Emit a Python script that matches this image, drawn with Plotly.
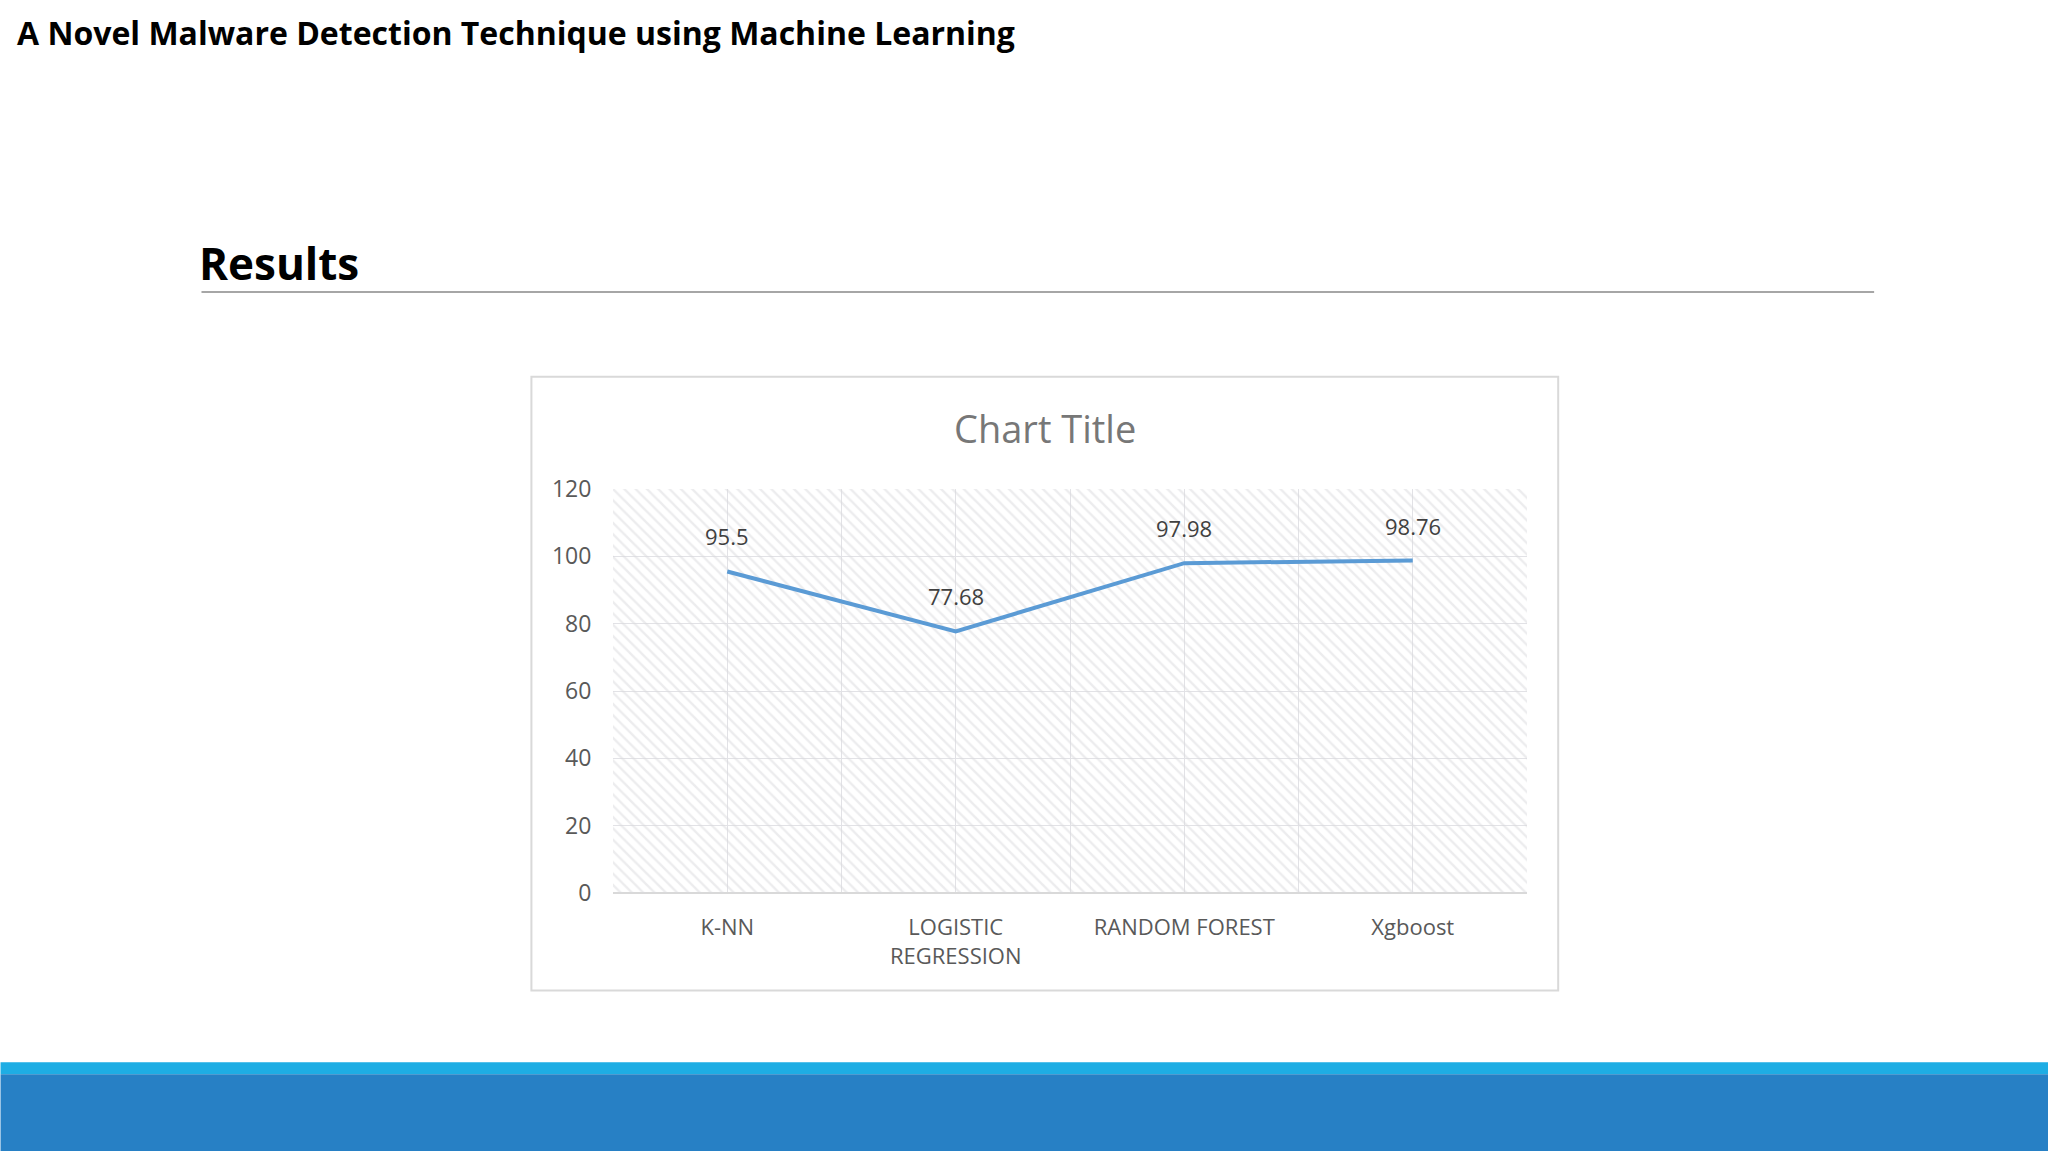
import plotly.graph_objects as go

# ---- data ----
categories = ["K-NN", "LOGISTIC<br>REGRESSION", "RANDOM FOREST", "Xgboost"]
accuracy = [95.5, 77.68, 97.98, 98.76]
y_ticks = [0, 20, 40, 60, 80, 100, 120]
page_title = "A Novel Malware Detection Technique using Machine Learning"
section_title = "Results"
chart_title = "Chart Title"

# ---- page geometry (pixels) ----
FW, FH = 2048, 1152
L, R, T, B = 612.6, 1526.8, 488.5, 893.4
W, H = R - L, B - T


def fx(px):
    return (px - L) / W


def fy(py):
    return (B - py) / H


xi = list(range(len(categories)))
ymax = max(y_ticks)

fig = go.Figure()

# hatched plot-area fill (Excel pattern fill), spans the full axis range
fig.add_trace(go.Bar(
    x=xi, y=[ymax] * len(xi), width=1,
    marker=dict(color="rgba(0,0,0,0)", line=dict(width=0),
                pattern=dict(shape="\\", fgcolor="#dadadd", bgcolor="rgba(0,0,0,0)",
                             size=8, solidity=0.3, fillmode="overlay")),
    hoverinfo="skip", showlegend=False,
))

fig.add_trace(go.Scatter(
    x=xi, y=accuracy, mode="lines",
    line=dict(color="#5b9bd5", width=4),
    showlegend=False,
))

for i, v in zip(xi, accuracy):
    fig.add_annotation(x=i, y=v, text=f"{v:g}", showarrow=False, yshift=35,
                       font=dict(family="Open Sans", size=22, color="#404040"))

fig.update_xaxes(
    range=[-0.5, len(categories) - 0.5],
    tickvals=xi, ticktext=categories,
    showgrid=True, gridcolor="#e2e2e6", gridwidth=1,
    minor=dict(tickvals=[i + 0.5 for i in range(-1, len(categories))], showgrid=True,
               gridcolor="#e2e2e6", gridwidth=1),
    ticks="outside", ticklen=15, tickcolor="rgba(0,0,0,0)",
    tickfont=dict(family="Open Sans", size=22, color="#595959"),
    showline=False, zeroline=False, fixedrange=True,
)
fig.update_yaxes(
    range=[0, ymax], tickvals=y_ticks,
    showgrid=True, gridcolor="#e2e2e6", gridwidth=1,
    ticks="outside", ticklen=16, tickcolor="rgba(0,0,0,0)",
    tickfont=dict(family="Open Sans", size=23, color="#595959"),
    showline=False, zeroline=True, zerolinecolor="#d9d9d9", zerolinewidth=2,
    fixedrange=True,
)

shapes = [
    # chart frame
    dict(type="rect", xref="paper", yref="paper", x0=fx(531), x1=fx(1558), y0=fy(991), y1=fy(376),
         line=dict(color="#d9d9d9", width=2), fillcolor="white", layer="below"),
    # rule under section title
    dict(type="line", xref="paper", yref="paper", x0=fx(201), x1=fx(1874), y0=fy(291), y1=fy(291),
         line=dict(color="#a6a6a6", width=2)),
    # bottom bands
    dict(type="rect", xref="paper", yref="paper", x0=fx(0), x1=fx(FW), y0=fy(1075), y1=fy(1063),
         line=dict(width=0), fillcolor="#1eade4"),
    dict(type="rect", xref="paper", yref="paper", x0=fx(0), x1=fx(FW), y0=fy(FH), y1=fy(1075),
         line=dict(width=0), fillcolor="#2780c5"),
]

annotations = [
    dict(text=f"<b>{page_title}</b>", xref="paper", yref="paper", x=fx(14), y=fy(31),
         xanchor="left", yanchor="middle", showarrow=False,
         font=dict(family="Open Sans", size=32, color="black")),
    dict(text=f"<b>{section_title}</b>", xref="paper", yref="paper", x=fx(197), y=fy(262),
         xanchor="left", yanchor="middle", showarrow=False,
         font=dict(family="Open Sans", size=44, color="black")),
    dict(text=chart_title, xref="paper", yref="paper", x=fx(1045), y=fy(427),
         xanchor="center", yanchor="middle", showarrow=False,
         font=dict(family="Open Sans", size=38, color="#777777")),
]

fig.update_layout(
    width=FW, height=FH,
    margin=dict(l=L, r=FW - R, t=T, b=FH - B, autoexpand=False),
    paper_bgcolor="white", plot_bgcolor="white",
    bargap=0, showlegend=False,
    shapes=shapes,
    font=dict(family="Open Sans"),
)
for a in annotations:
    fig.add_annotation(**a)

fig.write_html(
    "out.html",
    config={"displayModeBar": False},
    post_script="document.body.style.margin='0';document.body.style.overflow='hidden';",
)
